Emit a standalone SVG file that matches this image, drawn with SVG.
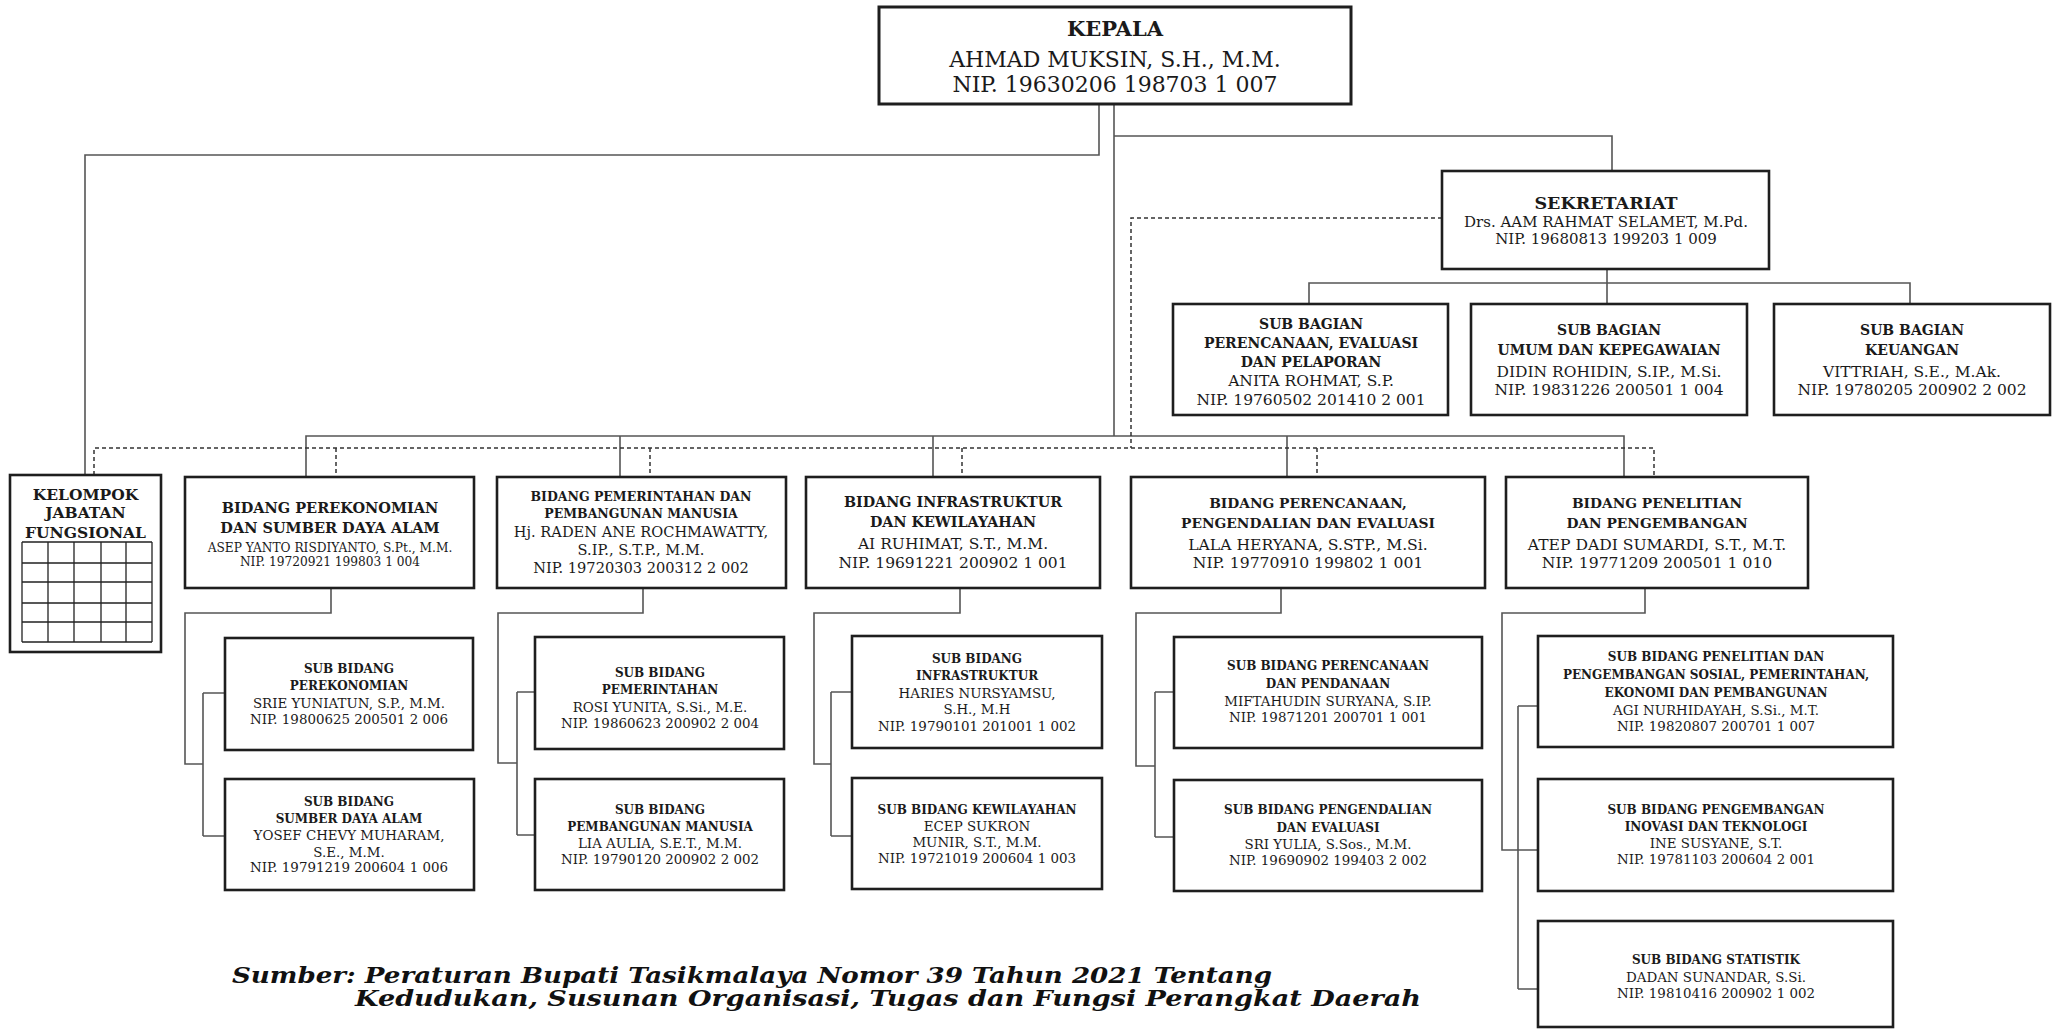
<svg xmlns="http://www.w3.org/2000/svg" width="2060" height="1030" viewBox="0 0 2060 1030">
<style>
.bg{fill:#ffffff}
.box{fill:#ffffff;stroke:#1e1e1e;stroke-width:2.6}
.t{font-family:"DejaVu Serif","Liberation Serif",serif;fill:#1a1a1a;text-anchor:middle}
.b{font-weight:bold}
.conn{fill:none;stroke:#555555;stroke-width:1.6}
.dash{fill:none;stroke:#333333;stroke-width:1.5;stroke-dasharray:4 3}
.grid{fill:none;stroke:#222222;stroke-width:1.3}
.foot{font-family:"DejaVu Serif","Liberation Serif",serif;font-weight:bold;font-style:italic;font-size:23px;fill:#111111}
</style>
<rect class="bg" x="0" y="0" width="2060" height="1030"/>

<g id="connectors">
  <path class="conn" d="M1099 104 V155 H85 V475"/>
  <path class="conn" d="M1114 104 V436"/>
  <path class="conn" d="M1114 136 H1612 V171"/>
  <path class="conn" d="M1607 269 V304"/>
  <path class="conn" d="M1309 304 V283 H1910 V304"/>
  <path class="conn" d="M306 477 V436 H1624 V477"/>
  <path class="conn" d="M620 436 V477 M933 436 V477 M1287 436 V477"/>
  <path class="dash" d="M1442 218 H1131 V448"/>
  <path class="dash" d="M94 475 V448 H1654 V477"/>
  <path class="dash" d="M336 448 V477 M650 448 V477 M962 448 V477 M1317 448 V477"/>
  <path class="conn" d="M331 588 V613 H185 V764 H203 M203 693 V836 M203 693 H225 M203 836 H225"/>
  <path class="conn" d="M643 588 V613 H498 V763 H517 M517 692 V835 M517 692 H535 M517 835 H535"/>
  <path class="conn" d="M960 588 V613 H814 V764 H831 M831 692 V836 M831 692 H852 M831 836 H852"/>
  <path class="conn" d="M1281 588 V613 H1136 V766 H1155 M1155 692 V837 M1155 692 H1174 M1155 837 H1174"/>
  <path class="conn" d="M1645 588 V613 H1502 V850 H1538 M1518 706 V989 M1518 706 H1538 M1518 989 H1538"/>
</g>

<g id="kepala">
  <rect class="box" x="879" y="7" width="472" height="97" style="stroke-width:3"/>
  <text class="t b" x="1115" y="36" font-size="21">KEPALA</text>
  <text class="t" x="1115" y="67" font-size="22">AHMAD MUKSIN, S.H., M.M.</text>
  <text class="t" x="1115" y="92" font-size="22">NIP. 19630206 198703 1 007</text>
</g>

<g id="sekretariat">
  <rect class="box" x="1442" y="171" width="327" height="98"/>
  <text class="t b" x="1606" y="209" font-size="17.5">SEKRETARIAT</text>
  <text class="t" x="1606" y="227" font-size="15">Drs. AAM RAHMAT SELAMET, M.Pd.</text>
  <text class="t" x="1606" y="244" font-size="15">NIP. 19680813 199203 1 009</text>
</g>

<g id="subbag-perencanaan">
  <rect class="box" x="1173" y="304" width="275" height="111"/>
  <text class="t b" x="1311" y="329" font-size="14">SUB BAGIAN</text>
  <text class="t b" x="1311" y="348" font-size="14">PERENCANAAN, EVALUASI</text>
  <text class="t b" x="1311" y="367" font-size="14">DAN PELAPORAN</text>
  <text class="t" x="1311" y="386" font-size="15.5">ANITA ROHMAT, S.P.</text>
  <text class="t" x="1311" y="405" font-size="15.5">NIP. 19760502 201410 2 001</text>
</g>

<g id="subbag-umum">
  <rect class="box" x="1471" y="304" width="276" height="111"/>
  <text class="t b" x="1609" y="335" font-size="14">SUB BAGIAN</text>
  <text class="t b" x="1609" y="355" font-size="14">UMUM DAN KEPEGAWAIAN</text>
  <text class="t" x="1609" y="377" font-size="15.5">DIDIN ROHIDIN, S.IP., M.Si.</text>
  <text class="t" x="1609" y="395" font-size="15.5">NIP. 19831226 200501 1 004</text>
</g>

<g id="subbag-keuangan">
  <rect class="box" x="1774" y="304" width="276" height="111"/>
  <text class="t b" x="1912" y="335" font-size="14">SUB BAGIAN</text>
  <text class="t b" x="1912" y="355" font-size="14">KEUANGAN</text>
  <text class="t" x="1912" y="377" font-size="15.5">VITTRIAH, S.E., M.Ak.</text>
  <text class="t" x="1912" y="395" font-size="15.5">NIP. 19780205 200902 2 002</text>
</g>

<g id="kelompok-jabatan-fungsional">
  <rect class="box" x="10" y="475" width="151" height="177"/>
  <text class="t b" x="85.5" y="500" font-size="15.5">KELOMPOK</text>
  <text class="t b" x="85.5" y="518" font-size="15.5">JABATAN</text>
  <text class="t b" x="85.5" y="538" font-size="15.5">FUNGSIONAL</text>
  <path class="grid" d="M22 542 H152 M22 563 H152 M22 582 H152 M22 603 H152 M22 622 H152 M22 642 H152 M22 542 V642 M48 542 V642 M74 542 V642 M101 542 V642 M126 542 V642 M152 542 V642"/>
</g>

<g id="bidang-perekonomian">
  <rect class="box" x="185" y="477" width="289" height="111"/>
  <text class="t b" x="330" y="513" font-size="14.5">BIDANG PEREKONOMIAN</text>
  <text class="t b" x="330" y="533" font-size="14.5">DAN SUMBER DAYA ALAM</text>
  <text class="t" x="330" y="552" font-size="12.2">ASEP YANTO RISDIYANTO, S.Pt., M.M.</text>
  <text class="t" x="330" y="566" font-size="12.2">NIP. 19720921 199803 1 004</text>
</g>

<g id="bidang-pemerintahan">
  <rect class="box" x="497" y="477" width="289" height="111"/>
  <text class="t b" x="641" y="501" font-size="12.5">BIDANG PEMERINTAHAN DAN</text>
  <text class="t b" x="641" y="518" font-size="12.5">PEMBANGUNAN MANUSIA</text>
  <text class="t" x="641" y="537" font-size="14.6">Hj. RADEN ANE ROCHMAWATTY,</text>
  <text class="t" x="641" y="555" font-size="14.6">S.IP., S.T.P., M.M.</text>
  <text class="t" x="641" y="573" font-size="14.6">NIP. 19720303 200312 2 002</text>
</g>

<g id="bidang-infrastruktur">
  <rect class="box" x="806" y="477" width="294" height="111"/>
  <text class="t b" x="953" y="507" font-size="14.3">BIDANG INFRASTRUKTUR</text>
  <text class="t b" x="953" y="527" font-size="14.3">DAN KEWILAYAHAN</text>
  <text class="t" x="953" y="549" font-size="15.5">AI RUHIMAT, S.T., M.M.</text>
  <text class="t" x="953" y="568" font-size="15.5">NIP. 19691221 200902 1 001</text>
</g>

<g id="bidang-perencanaan">
  <rect class="box" x="1131" y="477" width="354" height="111"/>
  <text class="t b" x="1308" y="508" font-size="13.8">BIDANG PERENCANAAN,</text>
  <text class="t b" x="1308" y="528" font-size="13.8">PENGENDALIAN DAN EVALUASI</text>
  <text class="t" x="1308" y="550" font-size="15.6">LALA HERYANA, S.STP., M.Si.</text>
  <text class="t" x="1308" y="568" font-size="15.6">NIP. 19770910 199802 1 001</text>
</g>

<g id="bidang-penelitian">
  <rect class="box" x="1506" y="477" width="302" height="111"/>
  <text class="t b" x="1657" y="508" font-size="13.8">BIDANG PENELITIAN</text>
  <text class="t b" x="1657" y="528" font-size="13.8">DAN PENGEMBANGAN</text>
  <text class="t" x="1657" y="550" font-size="15.6">ATEP DADI SUMARDI, S.T., M.T.</text>
  <text class="t" x="1657" y="568" font-size="15.6">NIP. 19771209 200501 1 010</text>
</g>

<g id="subbid-perekonomian">
  <rect class="box" x="225" y="638" width="248" height="112"/>
  <text class="t b" x="349" y="673" font-size="12">SUB BIDANG</text>
  <text class="t b" x="349" y="690" font-size="12">PEREKONOMIAN</text>
  <text class="t" x="349" y="708" font-size="13.4">SRIE YUNIATUN, S.P., M.M.</text>
  <text class="t" x="349" y="724" font-size="13.4">NIP. 19800625 200501 2 006</text>
</g>

<g id="subbid-sda">
  <rect class="box" x="225" y="779" width="249" height="111"/>
  <text class="t b" x="349" y="806" font-size="12">SUB BIDANG</text>
  <text class="t b" x="349" y="823" font-size="12">SUMBER DAYA ALAM</text>
  <text class="t" x="349" y="840" font-size="13.4">YOSEF CHEVY MUHARAM,</text>
  <text class="t" x="349" y="857" font-size="13.4">S.E., M.M.</text>
  <text class="t" x="349" y="872" font-size="13.4">NIP. 19791219 200604 1 006</text>
</g>

<g id="subbid-pemerintahan">
  <rect class="box" x="535" y="637" width="249" height="112"/>
  <text class="t b" x="660" y="677" font-size="12">SUB BIDANG</text>
  <text class="t b" x="660" y="694" font-size="12">PEMERINTAHAN</text>
  <text class="t" x="660" y="712" font-size="13.4">ROSI YUNITA, S.Si., M.E.</text>
  <text class="t" x="660" y="728" font-size="13.4">NIP. 19860623 200902 2 004</text>
</g>

<g id="subbid-pembangunan-manusia">
  <rect class="box" x="535" y="779" width="249" height="111"/>
  <text class="t b" x="660" y="814" font-size="12">SUB BIDANG</text>
  <text class="t b" x="660" y="831" font-size="12">PEMBANGUNAN MANUSIA</text>
  <text class="t" x="660" y="848" font-size="13.4">LIA AULIA, S.E.T., M.M.</text>
  <text class="t" x="660" y="864" font-size="13.4">NIP. 19790120 200902 2 002</text>
</g>

<g id="subbid-infrastruktur">
  <rect class="box" x="852" y="636" width="250" height="112"/>
  <text class="t b" x="977" y="663" font-size="12">SUB BIDANG</text>
  <text class="t b" x="977" y="680" font-size="12">INFRASTRUKTUR</text>
  <text class="t" x="977" y="698" font-size="13.4">HARIES NURSYAMSU,</text>
  <text class="t" x="977" y="714" font-size="13.4">S.H., M.H</text>
  <text class="t" x="977" y="731" font-size="13.4">NIP. 19790101 201001 1 002</text>
</g>

<g id="subbid-kewilayahan">
  <rect class="box" x="852" y="778" width="250" height="111"/>
  <text class="t b" x="977" y="814" font-size="12">SUB BIDANG KEWILAYAHAN</text>
  <text class="t" x="977" y="831" font-size="13.4">ECEP SUKRON</text>
  <text class="t" x="977" y="847" font-size="13.4">MUNIR, S.T., M.M.</text>
  <text class="t" x="977" y="863" font-size="13.4">NIP. 19721019 200604 1 003</text>
</g>

<g id="subbid-perencanaan-pendanaan">
  <rect class="box" x="1174" y="637" width="308" height="111"/>
  <text class="t b" x="1328" y="670" font-size="12">SUB BIDANG PERENCANAAN</text>
  <text class="t b" x="1328" y="688" font-size="12">DAN PENDANAAN</text>
  <text class="t" x="1328" y="706" font-size="13.4">MIFTAHUDIN SURYANA, S.IP.</text>
  <text class="t" x="1328" y="722" font-size="13.4">NIP. 19871201 200701 1 001</text>
</g>

<g id="subbid-pengendalian-evaluasi">
  <rect class="box" x="1174" y="780" width="308" height="111"/>
  <text class="t b" x="1328" y="814" font-size="12">SUB BIDANG PENGENDALIAN</text>
  <text class="t b" x="1328" y="832" font-size="12">DAN EVALUASI</text>
  <text class="t" x="1328" y="849" font-size="13.4">SRI YULIA, S.Sos., M.M.</text>
  <text class="t" x="1328" y="865" font-size="13.4">NIP. 19690902 199403 2 002</text>
</g>

<g id="subbid-penelitian-pengembangan">
  <rect class="box" x="1538" y="636" width="355" height="111"/>
  <text class="t b" x="1716" y="661" font-size="12">SUB BIDANG PENELITIAN DAN</text>
  <text class="t b" x="1716" y="679" font-size="12">PENGEMBANGAN SOSIAL, PEMERINTAHAN,</text>
  <text class="t b" x="1716" y="697" font-size="12">EKONOMI DAN PEMBANGUNAN</text>
  <text class="t" x="1716" y="715" font-size="13.4">AGI NURHIDAYAH, S.Si., M.T.</text>
  <text class="t" x="1716" y="731" font-size="13.4">NIP. 19820807 200701 1 007</text>
</g>

<g id="subbid-inovasi-teknologi">
  <rect class="box" x="1538" y="779" width="355" height="112"/>
  <text class="t b" x="1716" y="814" font-size="12">SUB BIDANG PENGEMBANGAN</text>
  <text class="t b" x="1716" y="831" font-size="12">INOVASI DAN TEKNOLOGI</text>
  <text class="t" x="1716" y="848" font-size="13.4">INE SUSYANE, S.T.</text>
  <text class="t" x="1716" y="864" font-size="13.4">NIP. 19781103 200604 2 001</text>
</g>

<g id="subbid-statistik">
  <rect class="box" x="1538" y="921" width="355" height="106"/>
  <text class="t b" x="1716" y="964" font-size="12">SUB BIDANG STATISTIK</text>
  <text class="t" x="1716" y="982" font-size="13.4">DADAN SUNANDAR, S.Si.</text>
  <text class="t" x="1716" y="998" font-size="13.4">NIP. 19810416 200902 1 002</text>
</g>

<g id="sumber">
  <text class="foot" x="232" y="983" textLength="1040" lengthAdjust="spacingAndGlyphs">Sumber: Peraturan Bupati Tasikmalaya Nomor 39 Tahun 2021 Tentang</text>
  <text class="foot" x="355" y="1006" textLength="1066" lengthAdjust="spacingAndGlyphs">Kedudukan, Susunan Organisasi, Tugas dan Fungsi Perangkat Daerah</text>
</g>
</svg>
